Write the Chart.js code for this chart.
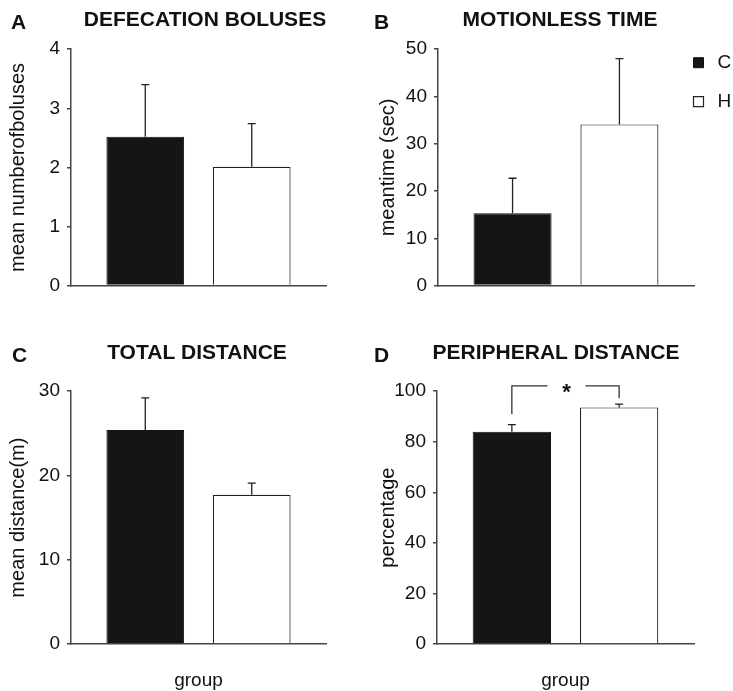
<!DOCTYPE html>
<html>
<head>
<meta charset="utf-8">
<script src="https://cdn.jsdelivr.net/npm/chart.js@4"></script>
<style>
  html, body { margin: 0; padding: 0; background: #fff; overflow: hidden; }
  #wrap { position: relative; width: 733px; height: 691px; overflow: hidden; }
  #wrap canvas { position: absolute; }
</style>
</head>
<body>
<div id="wrap">
  <canvas id="panelA" width="410" height="304" style="left:0px;top:0px"></canvas>
  <canvas id="panelB" width="380" height="304" style="left:370px;top:0px"></canvas>
  <canvas id="panelC" width="394" height="361" style="left:0px;top:330px"></canvas>
  <canvas id="panelD" width="372" height="361" style="left:370px;top:330px"></canvas>
</div>
<script>
// groups (legend is cut at the right edge of the figure)
var groups = ['C', 'H'];
var xLabels = ['group'];

// A: defecation boluses
var bolusMean = [2.52, 2.01];
var bolusErr = [0.88, 0.73];
var bolusTicks = [0, 1, 2, 3, 4];

// B: motionless time
var motionMean = [15.3, 34.1];
var motionErr = [7.4, 13.9];
var motionTicks = [0, 10, 20, 30, 40, 50];

// C: total distance
var distMean = [25.4, 17.7];
var distErr = [3.8, 1.4];
var distTicks = [0, 10, 20, 30];

// D: peripheral distance
var periphMean = [84.0, 93.6];
var periphErr = [2.8, 1.3];
var periphTicks = [0, 20, 40, 60, 80, 100];
// significance bracket: left foot, top, right foot (in %)
var sigBracket = [90.9, 102.1, 97.2];
var sigLabel = '*';

Chart.defaults.font.family = "'Liberation Sans', Arial, Helvetica, sans-serif";
Chart.defaults.color = '#111';

var AXIS = '#444';

// upward error bars with a small cap
var errorBars = {
    id: 'errorBars',
    afterDatasetsDraw: function (chart) {
        var ctx = chart.ctx;
        var y = chart.scales.y;
        ctx.save();
        ctx.strokeStyle = '#222';
        ctx.lineWidth = 1.3;
        chart.data.datasets.forEach(function (ds, i) {
            var meta = chart.getDatasetMeta(i);
            meta.data.forEach(function (bar, j) {
                var top = y.getPixelForValue(ds.data[j] + ds.err[j]);
                ctx.beginPath();
                ctx.moveTo(bar.x, bar.y);
                ctx.lineTo(bar.x, top);
                ctx.moveTo(bar.x - 4, top);
                ctx.lineTo(bar.x + 4, top);
                ctx.stroke();
            });
        });
        ctx.restore();
    }
};

// panel letter (A, B, C, D)
var panelLetter = {
    id: 'panelLetter',
    afterDraw: function (chart, args, opts) {
        if (!opts.text) return;
        var ctx = chart.ctx;
        ctx.save();
        ctx.font = 'bold 21px ' + Chart.defaults.font.family;
        ctx.fillStyle = '#111';
        ctx.textBaseline = 'alphabetic';
        ctx.fillText(opts.text, opts.x, opts.y);
        ctx.restore();
    }
};

function makePanel(id, o) {
    var datasets = groups.map(function (g, i) {
        return {
            label: g,
            data: [o.mean[i]],
            err: [o.err[i]],
            backgroundColor: i === 0 ? '#141615' : '#ffffff',
            borderColor: i === 0 ? '#111' : '#222',
            borderWidth: i === 0 ? 1 : 1.2,
            categoryPercentage: 0.835,
            barPercentage: 0.73
        };
    });
    var ticks = o.ticks;
    var cfg = {
        type: 'bar',
        data: { labels: xLabels, datasets: datasets },
        options: {
            responsive: false,
            animation: false,
            events: [],
            layout: { padding: 0 },
            scales: {
                x: {
                    type: 'category',
                    grid: { display: false, drawTicks: false },
                    border: { display: true, color: AXIS, width: 1.5 },
                    ticks: { display: o.showGroup, font: { size: 19 }, padding: 25, color: '#111' },
                    afterFit: function (s) { s.height = o.xH; }
                },
                y: {
                    min: ticks[0],
                    max: ticks[ticks.length - 1],
                    grid: { display: true, drawOnChartArea: false, drawTicks: true, tickLength: 4, color: AXIS, lineWidth: 1.5 },
                    border: { display: true, color: AXIS, width: 1.5 },
                    ticks: { stepSize: ticks[1] - ticks[0], font: { size: 19 }, padding: 7, color: '#111' },
                    title: { display: true, text: o.yTitle, font: { size: 20 }, padding: { top: 6, bottom: 0 }, color: '#111' },
                    afterFit: function (s) { s.width = o.yW; }
                },
                pad: {
                    type: 'linear',
                    position: 'right',
                    grid: { display: false, drawTicks: false },
                    border: { display: false },
                    ticks: { display: false },
                    afterFit: function (s) { s.width = o.rW; }
                }
            },
            plugins: {
                legend: { display: false },
                tooltip: { enabled: false },
                title: {
                    display: true,
                    text: o.title,
                    font: { size: 21, weight: 'bold' },
                    color: '#111',
                    padding: o.titlePad
                },
                panelLetter: o.letter
            }
        },
        plugins: [errorBars, panelLetter].concat(o.extra || [])
    };
    if (o.legend) {
        cfg.options.plugins.legend = {
            display: true,
            position: 'chartArea',
            align: 'start',
            labels: {
                usePointStyle: true,
                pointStyle: 'rect',
                boxWidth: 19,
                boxHeight: 10,
                padding: 20,
                font: { size: 19 },
                color: '#111'
            }
        };
    }
    return new Chart(document.getElementById(id), cfg);
}

// put the legend beside the top right corner of the plot, as in the figure
var legendSpot = {
    id: 'legendSpot',
    beforeDraw: function (chart) {
        var lg = chart.legend;
        if (!lg) return;
        var a = chart.chartArea;
        lg.left = a.right - 25;
        lg.right = lg.left + 120;
        lg.top = a.top - 16;
        lg.bottom = lg.top + 200;
    }
};

// significance bracket between the two bars of panel D
var bracket = {
    id: 'bracket',
    afterDraw: function (chart) {
        var ctx = chart.ctx;
        var y = chart.scales.y;
        var x1 = chart.getDatasetMeta(0).data[0].x;
        var x2 = chart.getDatasetMeta(1).data[0].x;
        var yl = y.getPixelForValue(sigBracket[0]);
        var yt = y.getPixelForValue(sigBracket[1]);
        var yr = y.getPixelForValue(sigBracket[2]);
        var xm = (x1 + x2) / 2 + 1;
        ctx.save();
        ctx.strokeStyle = '#333';
        ctx.lineWidth = 1.3;
        ctx.beginPath();
        ctx.moveTo(x1, yl);
        ctx.lineTo(x1, yt);
        ctx.lineTo(xm - 19, yt);
        ctx.moveTo(xm + 19, yt);
        ctx.lineTo(x2, yt);
        ctx.lineTo(x2, yr);
        ctx.stroke();
        ctx.font = 'bold 22px ' + Chart.defaults.font.family;
        ctx.fillStyle = '#111';
        ctx.textAlign = 'center';
        ctx.textBaseline = 'alphabetic';
        ctx.fillText(sigLabel, xm, yt + 13);
        ctx.restore();
    }
};

makePanel('panelA', {
    mean: bolusMean, err: bolusErr, ticks: bolusTicks,
    title: 'DEFECATION BOLUSES', yTitle: 'mean numberofboluses',
    yW: 71, rW: 84, xH: 10, showGroup: false,
    titlePad: { top: 8, bottom: 16 },
    letter: { text: 'A', x: 11, y: 29 }
});

makePanel('panelB', {
    mean: motionMean, err: motionErr, ticks: motionTicks,
    title: 'MOTIONLESS TIME', yTitle: 'meantime (sec)',
    yW: 68, rW: 56, xH: 10, showGroup: false,
    titlePad: { top: 8, bottom: 16 },
    letter: { text: 'B', x: 4, y: 29 },
    legend: true, extra: [legendSpot]
});

makePanel('panelC', {
    mean: distMean, err: distErr, ticks: distTicks,
    title: 'TOTAL DISTANCE', yTitle: 'mean distance(m)',
    yW: 71, rW: 68, xH: 47, showGroup: true,
    titlePad: { top: 11, bottom: 25 },
    letter: { text: 'C', x: 12, y: 32 }
});

makePanel('panelD', {
    mean: periphMean, err: periphErr, ticks: periphTicks,
    title: 'PERIPHERAL DISTANCE', yTitle: 'percentage',
    yW: 67, rW: 48, xH: 47, showGroup: true,
    titlePad: { top: 11, bottom: 25 },
    letter: { text: 'D', x: 4, y: 32 },
    extra: [bracket]
});
</script>
</body>
</html>
